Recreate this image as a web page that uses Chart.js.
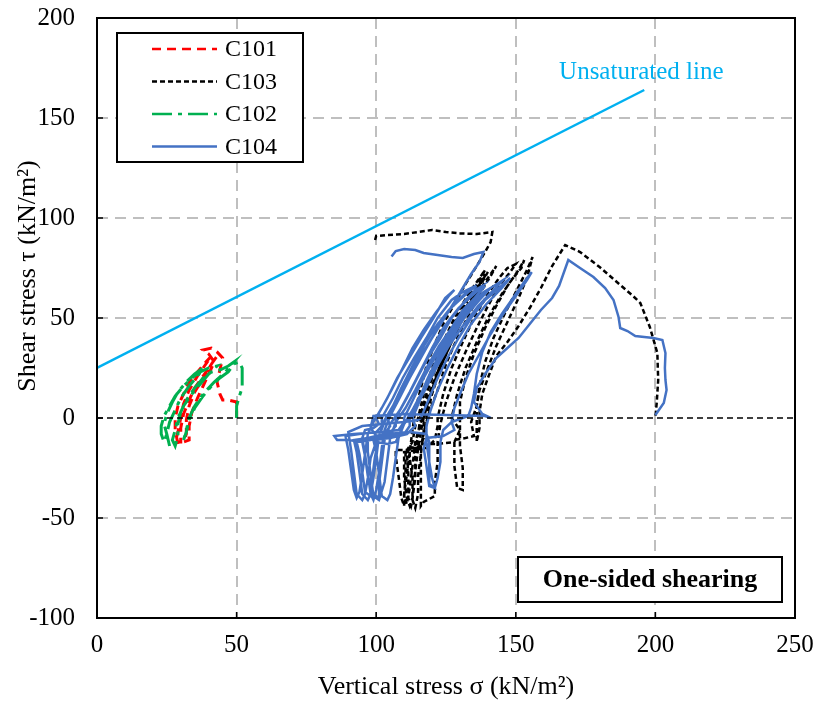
<!DOCTYPE html>
<html>
<head>
<meta charset="utf-8">
<script src="https://cdn.jsdelivr.net/npm/chart.js@4.4.1/dist/chart.umd.min.js"></script>
<style>
html, body { margin: 0; padding: 0; background: #fff; }
canvas { display: block; }
</style>
</head>
<body>
<canvas id="shearChart" width="815" height="704"></canvas>
<script>
// axis ticks
const xTicks = [0, 50, 100, 150, 200, 250];
const yTicks = [-100, -50, 0, 50, 100, 150, 200];
const xTitle = 'Vertical stress σ (kN/m²)';
const yTitle = 'Shear stress τ (kN/m²)';

// stress paths, [sigma, tau] pairs
const c101 = [
  [29,-13],[28,-6],[28,0],[29,6],[31,12],[33,18],[36,23],[39,28],[41,31],
  [39,27],[36,21],[33,14],[31,7],[30,0],[29,-7],[28,-12],
  [30,-12],[30,-5],[31,2],[33,9],[35,15],[38,21],[41,27],[43,31],
  [41,27],[38,20],[35,13],[33,6],[32,-1],[32,-8],[31,-12],
  [33,-11],[33,-4],[34,3],[36,10],[38,16],[40,22],[42,28],[40,32],[38,34],[41,35],[43,33],[45,30],
  [44,24],[43,18],[44,12],[45,9],[47,9],[50,8],[50,4],[50,0.5]
];
const c103 = [
  [99.6,89],[100,91],[104,91.5],[110,92],[115,93],[120,94],[125,93],[130,92.3],[136,92],[141.6,93],
  [141,88],[139,83],[136,76],[132,67],[128,57],[124,47],[121,37],[118,26],[116,15],[114,4],[113,-6],[112,-17],[111,-28],[110,-38],[110,-44],
  [109,-40],[108,-29],[107,-19],[107,-16],[111,-16],[113,-12],[114,-4],
  [115,0],[117,12],[120,25],[124,38],[128,50],[133,62],[137,70],[139,74],
  [137,69],[133,60],[129,49],[125,37],[121,24],[118,12],[116,2],[115,-8],[114,-19],[114,-30],[113,-40],[112,-44],
  [111,-40],[110,-30],[110,-20],[110,-17],[115,-16],[117,-10],[118,-3],
  [118,0],[120,12],[123,25],[127,38],[131,50],[136,62],[140,70],[142,74],[143,76],
  [141,71],[137,62],[133,51],[129,40],[125,27],[122,14],[119,3],[117,-7],[116,-18],[115,-29],[115,-38],[114,-45],
  [113,-41],[113,-30],[112,-20],[112,-15],[116,-14],[117,-8],[117,-2],
  [117,0],[119.5,12],[122.5,25],[126,38],[130,50],[134.5,61],[138,69],[140,73],
  [138,68],[134,58],[130,47],[126,35],[122,22],[119,10],[117,0],[115.5,-10],[114.5,-21],[113.5,-32],[113,-41],[112.5,-44],
  [111.5,-40],[111.5,-28],[111,-18],[112,-15],[115,-15],[116,-8],[116,0],
  [118,12],[121,25],[125,38],[129,50],[133,60],[137,68],[139,72],
  [137,66],[133,56],[129,45],[125,33],[121,20],[118,8],[116,-2],[114,-12],[113,-24],[112,-35],[111,-43],
  [110,-40],[110.5,-28],[110.5,-18],[112,-15],[118,-15],[121,-11],[122,-4],
  [122,0],[124,12],[127,25],[131,38],[135,50],[140,62],[144,70],[147,75],[150,77],
  [148,73],[144,66],[140,56],[136,45],[132,33],[128,20],[125,8],[123,-3],[122,-12],[122,-22],[121,-32],[121,-39],[117,-42],[116,-44],
  [116,-40],[116,-28],[116,-18],[116,-13],[122,-13],[128,-12],[130,-6],
  [127,0],[129,12],[132,25],[136,38],[140,50],[145,62],[149,70],[152,75],[153,79],
  [151,74],[147,66],[143,56],[139,45],[135,32],[132,20],[130,8],[130,-3],[130,-14],[131,-25],[131,-36],
  [129,-35],[128,-24],[128,-14],[128,-11],[132,-10],[135,-9],
  [134,-2],[136,6],[137,14],[140,25],[143,36],[147,48],[151,60],[154,70],[156,80.5],
  [154,74],[150,63],[146,52],[142,40],[139,28],[137,16],[136,6],[136,-4],[136,-12],[137,-5],
  [137,3],[138,12],[140,20],[143,31],[147,38],[151,46],[155,55],[159,65],[163,76],[167.7,86.5],
  [173,83],[180,75.5],[187,67],[192,61],[194.6,57.5],[198,45.5],[200.7,32.5],[201,19],[200.5,8],[200,0.5]
];
const c102 = [
  [26,-14],[25,-8],[24,-3],[25,2],[27,8],[29,13],[32,18],[35,22],[38,25],
  [36,21],[33,16],[30,10],[28,4],[26,-2],[25,-8],[24,-12],
  [23,-8],[23,-4],[24,1],[26,6],[28,11],[31,16],[34,20],[37,23],[40,25],[43,26],
  [40,22],[37,17],[34,12],[31,6],[29,0],[28,-6],[27,-11],[28,-14],
  [29,-9],[29,-3],[30,3],[32,9],[35,15],[38,20],[41,23],[44,24],[47,26],[49,28],
  [46,23],[42,18],[38,12],[35,6],[33,0],[32,-6],[31,-11],
  [32,-7],[33,-1],[35,5],[38,11],[41,16],[44,20],[47,23],[49,27],[51,28],[52,25],
  [52,20],[52,15],[51,11],[50,6],[50,2],[50,0]
];
const c104 = [
  [105.5,80.7],[107,83.5],[110,84.5],[114,84],[117,82.5],[122,81.5],[127,80.5],[131,80],[135,82],[138.4,83],
  [137,78],[134,72],[131,65],[128,58],[124,49],[120,40],[116,30],[112,20],[108,9],[105,1],[103,-6],[102,-15],[101,-27],[100,-36],[99,-41],
  [98,-38],[97,-28],[96,-18],[95,-10],[96,-6],[99,-5],[101,-3],
  [100,0],[104,10],[107.5,20],[111.8,30],[116,40],[120.5,50],[124.7,60],[128,64],
  [126,61],[121.5,53],[117,44],[113,35],[109.5,25],[105.5,14],[102,5],[99,-2],[97,-8],[96,-18],[95,-28],[94,-37],[93,-40],
  [92,-36],[91,-26],[90,-16],[89,-9],[94,-8],[100,-7],[102,-4],
  [102,0],[106,10],[109.5,20],[113.6,30],[118,40],[122,50],[127,59],[131,63],[134,65],
  [131,61],[126,54],[121,45],[117,36],[113,26],[109,15],[106,6],[103,-1],[101,-9],[100,-20],[99,-30],[98,-38],[97,-41],
  [95,-38],[94,-27],[93,-17],[92,-11],[97,-10],[103,-8],[105,-4],
  [104,0],[108,10],[111.7,20],[115.5,30],[120,40],[124,50],[129,59],[133,63],[136,66],
  [133,63],[127.5,56],[122,47],[117.5,37],[113.5,27],[109.5,16],[106,6],[103,-2],[101,-9],[99.5,-20],[98.5,-31],[98,-39],
  [96,-37],[95,-27],[94,-18],[93,-12],[98,-11],[104,-9],[107,-4],
  [107,0],[111,10],[114.7,20],[118.5,30],[123,40],[127,50],[132,59],[135.5,64],[138,66],
  [135,62],[129.5,55],[124,45],[120,35],[116,24],[112,13],[108.5,4],[105,-3],[103,-11],[102,-22],[101,-33],[101,-40],
  [99,-38],[97,-29],[96,-19],[95,-12],[90,-11],[86,-11],[85,-9],[92,-8],[102,-7],[108,-6],[110,-2],
  [110,0],[113.5,10],[117,20],[121,30],[125,40],[129.5,50],[134,58],[137,63],[139,66],
  [136,61],[131,54],[127,45],[122.5,36],[118,25],[114,14],[110.5,5],[107,-2],[105,-10],[104,-21],[103,-32],[101,-41],
  [99,-39],[98,-28],[97,-17],[97,-10],[103,-9],[110,-8],[112,-4],
  [112,0],[115.5,10],[118.5,20],[122,30],[126,40],[130.5,50],[135,58],[138.5,63],[141,65],
  [138,61],[133,53],[128.5,44],[124,34],[120,23],[116,12],[113,4],[110,-3],[108,-10],[107,-20],[106,-30],[105,-38],[104,-41],
  [102,-39],[101,-28],[100,-17],[99,-11],[105,-10],[111,-8],[114,-4],
  [113,0],[116,10],[119.5,20],[123,30],[127,40],[131.5,50],[137,59],[141,65],[145.5,69],
  [142,64],[136.5,56],[131,46],[126,36],[121.5,25],[117.5,14],[114,5],[110,-3],[107,-12],[104,-13],[100,-12],[98,-20],[97,-30],[96,-38],[95,-41],
  [93,-38],[92,-27],[91,-16],[90,-7],[95,-4],[102,-3],[110,-2],[115,-1],
  [116,0],[119,10],[122,20],[125.5,30],[129.5,40],[134,50],[139,59],[144,65],[148,70],
  [145,65],[139.5,57],[134,47],[129.5,36],[125.5,25],[122,14],[119.5,4],[118,-4],[118,-12],[119,-22],[120,-30],[121,-35],
  [119,-34],[118,-24],[117,-15],[118,-10],[124,-9],[128,-6],
  [127,-2],[128,5],[130,12],[133,22],[137,32],[141,42],[145,51],[149,59],[152,65],[154,69],[155.7,73],
  [153,68],[149,60],[145,52],[141,43],[138,33],[136,22],[135,12],[134,5],[133,1],[127,-2],[124,-6],[123,-12],[123,-22],[122,-30],[121,-35],
  [119,-33],[119,-22],[119,-12],[118,-8],[112,-7],[104,-8],[100,-9],[98,-5],[99,1],[110,2],[125,1.5],[139,1],[141,0],
  [138,2],[135,8],[136,15],[139,22],[143,30],[147,35],[151,40],[155,47],[159,54],[163,60],[165.5,66],[168.8,79],
  [173,75],[177.8,70.5],[182,65],[185,59],[186.8,50.5],[187.4,45],[190,43.5],[192.8,41],[196,40.5],
  [199.3,40],[202.5,39],[203.6,32.5],[203.4,25],[203.6,19],[204,14],[203,7.5],[200,1.5]
];
// unsaturated failure line
const unsatX = [0, 196];
const unsatY = [25, 164];

const serif = '"Liberation Serif", "Times New Roman", serif';
const toXY = pts => pts.map(p => ({ x: p[0], y: p[1] }));

const decorations = {
  id: 'decorations',
  beforeDraw(chart) {
    const c = chart.ctx;
    c.save();
    c.fillStyle = '#fff';
    c.fillRect(0, 0, chart.width, chart.height);
    c.restore();
  },
  afterDatasetsDraw(chart) {
    const { ctx, chartArea: a, scales: { x, y } } = chart;
    ctx.save();

    // tau = 0 line
    const y0 = y.getPixelForValue(0);
    ctx.strokeStyle = '#000';
    ctx.lineWidth = 1.5;
    ctx.setLineDash([6, 4]);
    ctx.beginPath();
    ctx.moveTo(a.left, y0);
    ctx.lineTo(a.right, y0);
    ctx.stroke();
    ctx.setLineDash([]);

    // frame + inside tick marks
    ctx.lineWidth = 2;
    ctx.strokeRect(a.left, a.top, a.right - a.left, a.bottom - a.top);
    ctx.lineWidth = 1.5;
    ctx.beginPath();
    yTicks.forEach(v => {
      const py = y.getPixelForValue(v);
      ctx.moveTo(a.left, py); ctx.lineTo(a.left + 6, py);
    });
    xTicks.forEach(v => {
      const px = x.getPixelForValue(v);
      ctx.moveTo(px, a.bottom); ctx.lineTo(px, a.bottom - 6);
    });
    ctx.stroke();

    // axis titles (the y title sits above centre, as in the original)
    ctx.fillStyle = '#000';
    ctx.font = '26px ' + serif;
    ctx.textAlign = 'center';
    ctx.textBaseline = 'middle';
    ctx.fillText(xTitle, (a.left + a.right) / 2, a.bottom + 69);
    ctx.save();
    ctx.translate(28, y.getPixelForValue(71));
    ctx.rotate(-Math.PI / 2);
    ctx.fillText(yTitle, 0, 0);
    ctx.restore();

    // line label
    ctx.fillStyle = '#00b0f0';
    ctx.font = '25px ' + serif;
    ctx.textAlign = 'left';
    ctx.fillText('Unsaturated line', x.getPixelForValue(165.5), y.getPixelForValue(173));

    // legend box
    const items = chart.data.datasets.filter(d => d.inLegend);
    const bx = a.left + 20, by = a.top + 15, bw = 186, bh = 129;
    ctx.fillStyle = '#fff';
    ctx.fillRect(bx, by, bw, bh);
    ctx.strokeStyle = '#000';
    ctx.lineWidth = 2;
    ctx.strokeRect(bx, by, bw, bh);
    ctx.font = '24px ' + serif;
    items.forEach((d, i) => {
      const ry = by + 16 + i * 32.5;
      ctx.strokeStyle = d.borderColor;
      ctx.lineWidth = Math.min(d.borderWidth, 2.5);
      ctx.setLineDash(d.borderDash || []);
      ctx.beginPath();
      ctx.moveTo(bx + 35, ry);
      ctx.lineTo(bx + 100, ry);
      ctx.stroke();
      ctx.setLineDash([]);
      ctx.fillStyle = '#000';
      ctx.fillText(d.label, bx + 108, ry + 1);
    });

    // test type box
    const tw = 264, th = 45;
    const tx = a.right - 13 - tw, ty = a.bottom - 16 - th;
    ctx.fillStyle = '#fff';
    ctx.fillRect(tx, ty, tw, th);
    ctx.strokeStyle = '#000';
    ctx.lineWidth = 2;
    ctx.strokeRect(tx, ty, tw, th);
    ctx.fillStyle = '#000';
    ctx.font = 'bold 26px ' + serif;
    ctx.textAlign = 'center';
    ctx.fillText('One-sided shearing', tx + tw / 2, ty + th / 2 + 1);

    ctx.restore();
  }
};

const CHART = document.getElementById('shearChart');
new Chart(CHART, {
  type: 'scatter',
  data: {
    datasets: [
      { label: 'C101', data: toXY(c101), borderColor: '#ff0000', borderWidth: 3, borderDash: [9, 6], order: 2, inLegend: true },
      { label: 'C103', data: toXY(c103), borderColor: '#000000', borderWidth: 2.5, borderDash: [5, 3], order: 3, inLegend: true },
      { label: 'C102', data: toXY(c102), borderColor: '#00b050', borderWidth: 3, borderDash: [20, 6, 4, 6], order: 1, inLegend: true },
      { label: 'C104', data: toXY(c104), borderColor: '#4472c4', borderWidth: 2.5, order: 1, inLegend: true },
      { label: 'Unsaturated line', data: unsatX.map((v, i) => ({ x: v, y: unsatY[i] })), borderColor: '#00b0f0', borderWidth: 2.5, order: 4 }
    ].map(d => Object.assign({ showLine: true, pointRadius: 0, fill: false, tension: 0 }, d))
  },
  options: {
    responsive: false,
    animation: false,
    layout: { padding: { top: 18, right: 20, left: 0, bottom: 0 } },
    plugins: { legend: { display: false }, tooltip: { enabled: false } },
    scales: {
      x: {
        type: 'linear',
        min: xTicks[0],
        max: xTicks[xTicks.length - 1],
        afterBuildTicks: s => { s.ticks = xTicks.map(v => ({ value: v })); },
        afterFit: s => { s.height = 86; s.paddingLeft = 0; s.paddingRight = 0; },
        grid: { color: c => (c.tick && c.tick.value === 0) ? 'rgba(0,0,0,0)' : '#bfbfbf', lineWidth: 2, drawTicks: false },
        border: { display: false, dash: [11, 7] },
        ticks: { color: '#000', font: { family: serif, size: 25 }, padding: 12, maxRotation: 0 }
      },
      y: {
        type: 'linear',
        min: yTicks[0],
        max: yTicks[yTicks.length - 1],
        afterBuildTicks: s => { s.ticks = yTicks.map(v => ({ value: v })); },
        afterFit: s => { s.width = 97; s.paddingTop = 0; s.paddingBottom = 0; },
        grid: { color: c => (c.tick && c.tick.value === 0) ? 'rgba(0,0,0,0)' : '#bfbfbf', lineWidth: 2, drawTicks: false },
        border: { display: false, dash: [11, 7] },
        ticks: { color: '#000', font: { family: serif, size: 25 }, padding: 22 }
      }
    }
  },
  plugins: [decorations]
});
</script>
</body>
</html>
